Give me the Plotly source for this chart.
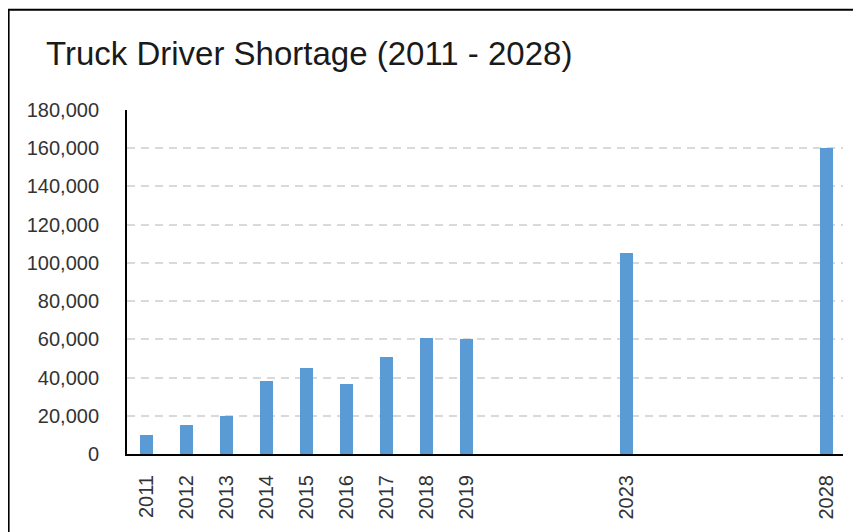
import plotly.graph_objects as go

years = [2011, 2012, 2013, 2014, 2015, 2016, 2017, 2018, 2019, 2023, 2028]
shortage = [10000, 15000, 20000, 38000, 45000, 36500, 50700, 60800, 60000, 105000, 160000]
tick_labels = [str(y) for y in years]
y_ticks = list(range(0, 180001, 20000))
y_tick_labels = [f"{v:,}" for v in y_ticks]

# the page body has an 8px margin, so the figure is sized to fit the window
W, H = 853, 524
L, R, T, B = 119, 18, 102, 76
pw, ph = W - L - R, H - T - B

fig = go.Figure()
fig.add_trace(go.Bar(x=years, y=shortage, width=0.32,
                     marker=dict(color="#5B9BD5", line=dict(width=0))))

def px_x(p):
    return (p - L) / pw

def px_y(p):
    return (H - B - p) / ph

fig.update_layout(
    width=W, height=H,
    margin=dict(l=L, r=R, t=T, b=B),
    paper_bgcolor="white", plot_bgcolor="white",
    showlegend=False,
    font=dict(family="Liberation Sans, Arial, sans-serif", color="#333333"),
    title=dict(text="Truck Driver Shortage (2011 - 2028)",
               font=dict(size=33, color="#1a1a1a", family="Liberation Sans, Arial, sans-serif"),
               x=38 / W, xanchor="left", xref="container",
               y=1 - 45 / H, yanchor="middle", yref="container"),
    xaxis=dict(type="linear", range=[2010.52, 2028.42],
               tickmode="array", tickvals=years, ticktext=tick_labels,
               tickangle=-90, tickfont=dict(size=20, color="#333333"),
               showgrid=False, zeroline=False,
               showline=True, linecolor="black", linewidth=2,
               ticks="", ticklabelstandoff=11),
    yaxis=dict(range=[0, 180000], tickmode="array", tickvals=y_ticks,
               ticktext=y_tick_labels, tickfont=dict(size=20, color="#333333"),
               showgrid=True, gridcolor="#D9D9D9", gridwidth=1.5, griddash="8px,6px",
               zeroline=False, showline=True, linecolor="black", linewidth=2,
               ticks="", ticklabelstandoff=22),
    bargap=0,
)

fig.add_shape(type="rect", xref="paper", yref="paper",
              x0=px_x(0.6), x1=px_x(W + 20), y0=px_y(H + 20), y1=px_y(1.2),
              line=dict(color="black", width=2), fillcolor="rgba(0,0,0,0)",
              layer="above")

fig.write_html("out.html")
